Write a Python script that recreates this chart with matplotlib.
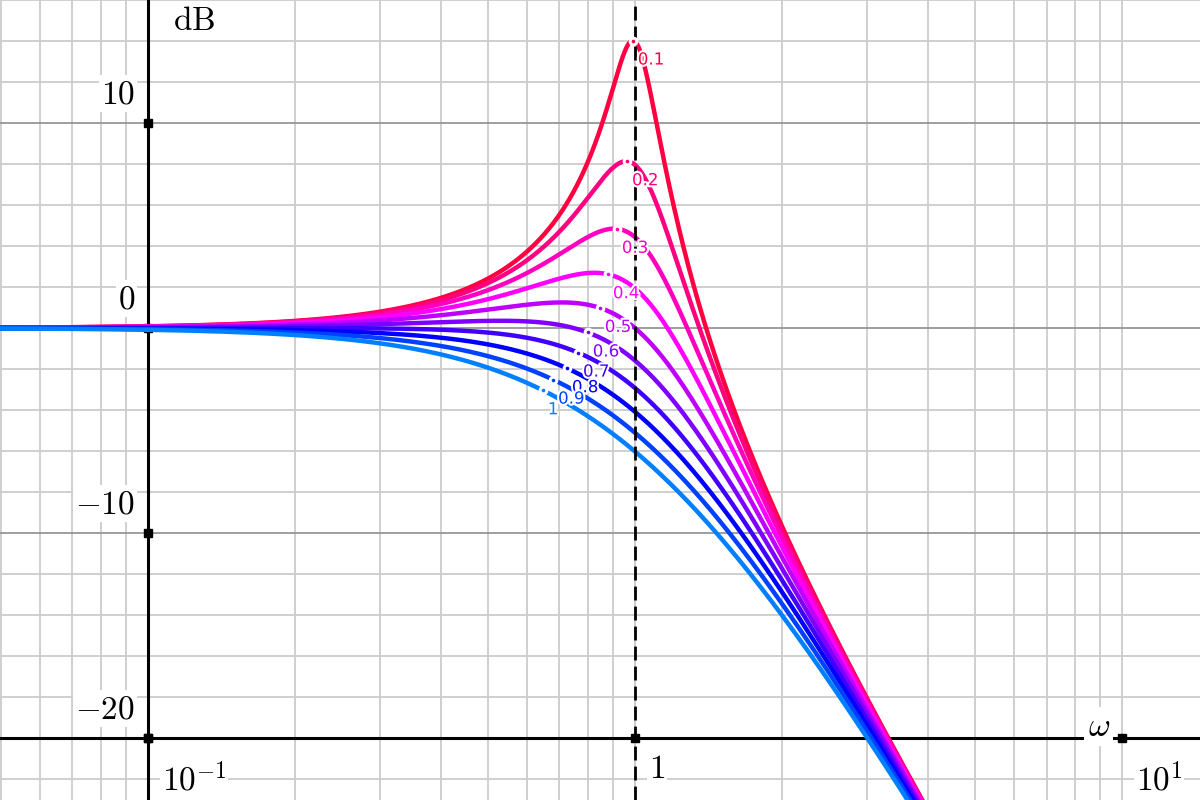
import numpy as np
import matplotlib
matplotlib.use('Agg')
import matplotlib.pyplot as plt
import matplotlib.patheffects as pe

# ---- data ----
zetas = [0.1, 0.2, 0.3, 0.4, 0.5, 0.6, 0.7, 0.8, 0.9, 1.0]
zeta_labels = ['0.1', '0.2', '0.3', '0.4', '0.5', '0.6', '0.7', '0.8', '0.9', '1']
colors = ['#ff0040', '#ff0080', '#ff00bf', '#ff00ff', '#bf00ff',
          '#8000ff', '#4000ff', '#0000ff', '#0040ff', '#0080ff']
label_omegas = [0.99, 0.963, 0.918, 0.88, 0.847, 0.80, 0.764, 0.725, 0.679, 0.647]
y_ticks = [10, 0, -10, -20]
y_tick_labels = [r'$10$', r'$0$', r'$-10$', r'$-20$']
x_ticks = [0.1, 1, 10]
x_tick_labels = [r'$10^{-1}$', r'$1$', r'$10^{1}$']

XMIN, XMAX = 0.0497, 14.46
YMIN, YMAX = -23.02, 16.0


def mag_db(w, z):
    w = np.asarray(w, dtype=float)
    return -20 * np.log10(np.sqrt((1 - w ** 2) ** 2 + (2 * z * w) ** 2))


plt.rcParams['mathtext.fontset'] = 'cm'
fig = plt.figure(figsize=(12, 8), dpi=100)
ax = fig.add_axes([0, 0, 1, 1])
ax.set_xscale('log')
ax.set_xlim(XMIN, XMAX)
ax.set_ylim(YMIN, YMAX)
ax.axis('off')

# grid
for dec in [0.01, 0.1, 1, 10]:
    for k in range(1, 10):
        v = k * dec
        if XMIN < v < XMAX:
            ax.axvline(v, color='#cccccc', lw=1.3, zorder=0)
for v in range(-24, 17, 2):
    ax.axhline(v, color='#969696' if v % 10 == 0 else '#cccccc', lw=1.3, zorder=0.1)

# axes
ax.axhline(-20, color='black', lw=2.2, zorder=1.5)
ax.axvline(0.1, color='black', lw=2.2, zorder=1.5)
ax.plot([0.1] * len(y_ticks), y_ticks, 's', ms=5.5, color='black', zorder=1.6)
ax.plot(x_ticks, [-20] * len(x_ticks), 's', ms=5.5, color='black', zorder=1.6)

# curves
w = np.logspace(np.log10(XMIN), np.log10(XMAX), 2000)
for z, c in zip(zetas, colors):
    ax.plot(w, mag_db(w, z), color=c, lw=3.2, zorder=2, solid_capstyle='round')

# dashed line at omega = 1
ax.axvline(1, color='black', lw=2, linestyle=(0, (5, 2.2)), zorder=3)

# curve labels
for z, c, lbl, w0 in zip(zetas, colors, zeta_labels, label_omegas):
    y0 = float(mag_db(w0, z))
    ax.plot(w0, y0, 'o', ms=7, mfc='white', mec='none', zorder=4)
    ax.plot(w0, y0, 'o', ms=2.6, mfc=c, mec='none', zorder=5)
    ax.annotate(lbl, (w0, y0), xytext=(5, -10), textcoords='offset pixels',
                ha='left', va='top', fontsize=12, color=c, zorder=6,
                path_effects=[pe.withStroke(linewidth=3, foreground='white')])

box = dict(boxstyle='square,pad=0.05', fc='white', ec='none')
for v, t in zip(y_ticks, y_tick_labels):
    ax.annotate(t, (0.1, v), xytext=(-13, 20), textcoords='offset pixels',
                ha='right', va='baseline', fontsize=24, bbox=box, zorder=7)
for v, t in zip(x_ticks, x_tick_labels):
    dy = -40 if t == r'$1$' else -53
    ax.annotate(t, (v, -20), xytext=(14, dy), textcoords='offset pixels',
                ha='left', va='baseline', fontsize=24, bbox=box, zorder=7)

ax.annotate(r'$\mathrm{dB}$', (0.1, YMAX), xytext=(25, -30), textcoords='offset pixels',
            ha='left', va='baseline', fontsize=24, zorder=7)
ax.annotate(r'$\omega$', (10, -20), xytext=(-12, 2), textcoords='offset pixels',
            ha='right', va='baseline', fontsize=24,
            bbox=dict(boxstyle='square,pad=0.1', fc='white', ec='none'), zorder=7)

fig.savefig('out.png', dpi=100)
